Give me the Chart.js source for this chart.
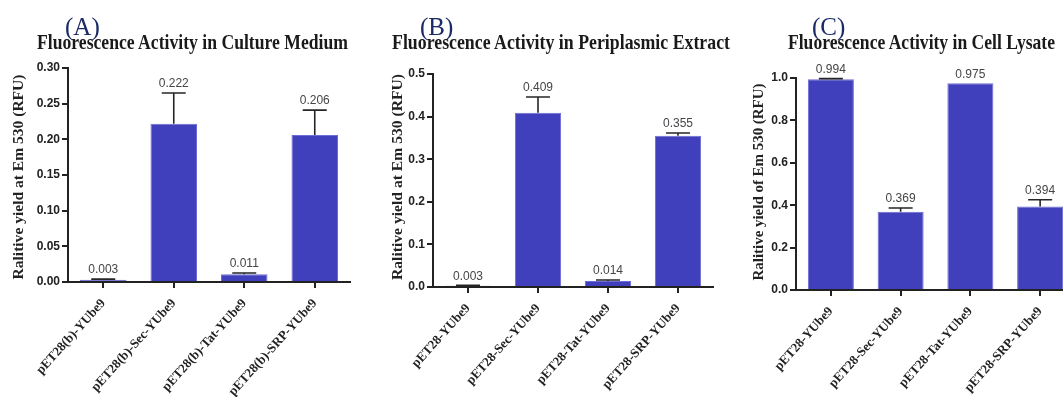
<!DOCTYPE html>
<html>
<head>
<meta charset="utf-8">
<script src="https://cdn.jsdelivr.net/npm/chart.js@4.4.0/dist/chart.umd.min.js"></script>
<style>
  html, body { margin: 0; padding: 0; background: #fff; }
  #wrap { position: relative; width: 1063px; height: 397px; overflow: hidden; background: #fff; }
  canvas.panel { position: absolute; top: 0; }
  .letter { position: absolute; font-family: "Liberation Serif", "Times New Roman", serif; font-size: 25px;
            color: #1b2a66; line-height: 1; white-space: nowrap; }
  .title { position: absolute; font-family: "Liberation Serif", "Times New Roman", serif; font-weight: bold;
           font-size: 22px; color: #1a1a1a; line-height: 1; white-space: nowrap; transform-origin: 0 0; }
</style>
</head>
<body>
<div id="wrap">
  <canvas id="chartA" class="panel" width="360" height="397" style="left:0px"></canvas>
  <canvas id="chartB" class="panel" width="360" height="397" style="left:360px"></canvas>
  <canvas id="chartC" class="panel" width="360" height="397" style="left:720px"></canvas>
</div>
<script>
// ---- data ----
const panelLetters = ['(A)', '(B)', '(C)'];
const panelTitles = [
  'Fluorescence Activity in Culture Medium',
  'Fluorescence Activity in Periplasmic Extract',
  'Fluorescence Activity in Cell Lysate'
];
const yAxisTitles = [
  'Ralitive yield at Em 530 (RFU)',
  'Ralitive yield at Em 530 (RFU)',
  'Ralitive yield of Em 530 (RFU)'
];

const categoriesA = ['pET28(b)-YUbe9', 'pET28(b)-Sec-YUbe9', 'pET28(b)-Tat-YUbe9', 'pET28(b)-SRP-YUbe9'];
const categoriesB = ['pET28-YUbe9', 'pET28-Sec-YUbe9', 'pET28-Tat-YUbe9', 'pET28-SRP-YUbe9'];
const categoriesC = ['pET28-YUbe9', 'pET28-Sec-YUbe9', 'pET28-Tat-YUbe9', 'pET28-SRP-YUbe9'];

const valuesA = [0.003, 0.222, 0.011, 0.206];
const errorsA = [0.001, 0.043, 0.0016, 0.035];
const valuesB = [0.003, 0.409, 0.014, 0.355];
const errorsB = [0.001, 0.037, 0.0025, 0.0065];
const valuesC = [0.994, 0.369, 0.975, 0.394];
const errorsC = [0.003, 0.018, 0, 0.032];

const yTicksA = [0.00, 0.05, 0.10, 0.15, 0.20, 0.25, 0.30];
const yTicksB = [0.0, 0.1, 0.2, 0.3, 0.4, 0.5];
const yTicksC = [0.0, 0.2, 0.4, 0.6, 0.8, 1.0];

// ---- styling ----
const BAR_FILL = '#4040bd';
const BAR_EDGE = '#6c6cd6';
const INK = '#222';
const SERIF = '"Liberation Serif", "Times New Roman", serif';

// upward error bars plus the value written above each one
const errorBarPlugin = {
  id: 'errorBars',
  afterDatasetsDraw(chart, args, opts) {
    const ctx = chart.ctx;
    const yScale = chart.scales.y;
    const meta = chart.getDatasetMeta(0);
    const vals = chart.data.datasets[0].data;
    ctx.save();
    meta.data.forEach((bar, i) => {
      const v = vals[i];
      const e = opts.errors[i] || 0;
      const yTop = yScale.getPixelForValue(v + e);
      const x = bar.x;
      ctx.strokeStyle = '#262626';
      ctx.lineWidth = 1.6;
      if (e > 0) {
        ctx.beginPath();
        ctx.moveTo(x, bar.y);
        ctx.lineTo(x, yTop);
        ctx.moveTo(x - 12, yTop);
        ctx.lineTo(x + 12, yTop);
        ctx.stroke();
      }
      ctx.fillStyle = '#454545';
      ctx.font = '12px "Liberation Sans Narrow", "Liberation Sans", Arial, sans-serif';
      ctx.textAlign = 'center';
      ctx.textBaseline = 'bottom';
      ctx.fillText(v.toFixed(3), x, yTop - 3);
    });
    ctx.restore();
  }
};

// vertical axis caption, stretched along its length to span the axis
const axisCaptionPlugin = {
  id: 'axisCaption',
  afterDraw(chart, args, opts) {
    const ctx = chart.ctx;
    ctx.save();
    ctx.font = 'bold 15px ' + SERIF;
    ctx.fillStyle = INK;
    ctx.textAlign = 'center';
    ctx.textBaseline = 'middle';
    const w = ctx.measureText(opts.text).width;
    ctx.translate(opts.x, opts.y);
    ctx.rotate(-Math.PI / 2);
    ctx.scale(opts.length / w, 1);
    ctx.fillText(opts.text, 0, 0);
    ctx.restore();
  }
};

function makePanel(id, cats, vals, errs, yTicks, decimals, yTitle, lay) {
  const yMax = yTicks[yTicks.length - 1];
  const step = yTicks[1] - yTicks[0];
  return new Chart(document.getElementById(id), {
    type: 'bar',
    data: {
      labels: cats,
      datasets: [{
        data: vals,
        backgroundColor: BAR_FILL,
        borderColor: BAR_EDGE,
        borderWidth: 1,
        categoryPercentage: 1.0,
        barPercentage: 0.66
      }]
    },
    options: {
      responsive: false,
      animation: false,
      events: [],
      layout: { padding: { left: lay.padLeft, right: lay.padRight, top: lay.padTop, bottom: 0 } },
      plugins: {
        legend: { display: false },
        tooltip: { enabled: false },
        errorBars: { errors: errs },
        axisCaption: { text: yTitle, x: lay.capX, y: lay.capY, length: lay.capLen }
      },
      scales: {
        x: {
          offset: true,
          grid: { offset: false, drawOnChartArea: false, tickLength: 6, color: INK, lineWidth: 2 },
          border: { color: INK, width: 2 },
          ticks: {
            autoSkip: false, minRotation: 48, maxRotation: 48, padding: 8, color: INK,
            font: { family: SERIF, weight: 'bold', size: 13 }
          },
          afterFit(s) { s.height = lay.xHeight; }
        },
        y: {
          min: 0,
          max: yMax,
          grid: { drawOnChartArea: false, tickLength: 6, color: INK, lineWidth: 2 },
          border: { color: INK, width: 2 },
          ticks: {
            stepSize: step, padding: 2, color: INK,
            font: { family: '"Liberation Sans", Arial, sans-serif', weight: 'bold', size: 12 },
            callback: (v) => Number(v).toFixed(decimals)
          },
          afterFit(s) { s.width = lay.yWidth; }
        }
      }
    },
    plugins: [errorBarPlugin, axisCaptionPlugin]
  });
}

makePanel('chartA', categoriesA, valuesA, errorsA, yTicksA, 2, yAxisTitles[0],
  { padLeft: 6, padRight: 10, padTop: 68, yWidth: 62, xHeight: 115, capX: 19, capY: 177, capLen: 205 });
makePanel('chartB', categoriesB, valuesB, errorsB, yTicksB, 1, yAxisTitles[1],
  { padLeft: 25, padRight: 7, padTop: 74, yWidth: 48, xHeight: 110, capX: 38, capY: 177, capLen: 206 });
makePanel('chartC', categoriesC, valuesC, errorsC, yTicksC, 1, yAxisTitles[2],
  { padLeft: 26, padRight: 5, padTop: 78, yWidth: 50, xHeight: 107, capX: 39, capY: 182, capLen: 197 });

// panel letters and headings
const wrap = document.getElementById('wrap');
const letterLeft = [65, 420, 812];
const titleLeft = [37, 392, 788];
const titleWidth = [311, 338, 267];
panelLetters.forEach((t, i) => {
  const d = document.createElement('div');
  d.className = 'letter';
  d.textContent = t;
  d.style.left = letterLeft[i] + 'px';
  d.style.top = '14px';
  wrap.appendChild(d);
});
panelTitles.forEach((t, i) => {
  const d = document.createElement('div');
  d.className = 'title';
  d.textContent = t;
  d.style.left = titleLeft[i] + 'px';
  d.style.top = '31px';
  wrap.appendChild(d);
  const w = d.getBoundingClientRect().width;
  d.style.transform = 'scaleX(' + (titleWidth[i] / w).toFixed(4) + ')';
});
</script>
</body>
</html>
